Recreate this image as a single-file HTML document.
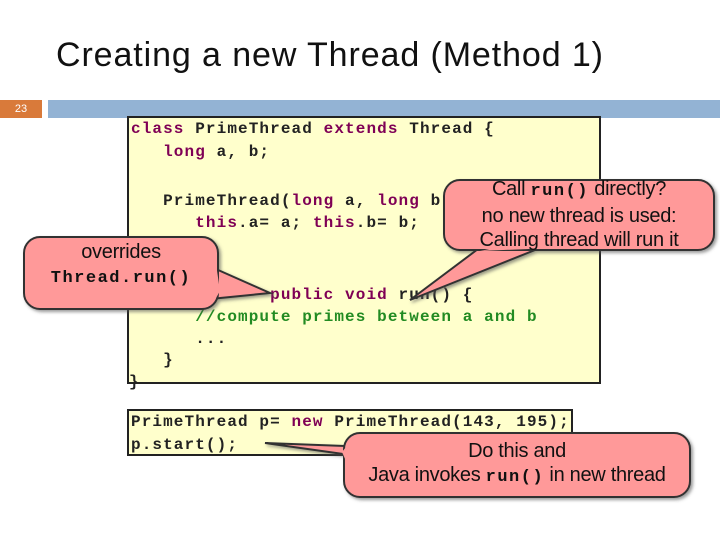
<!DOCTYPE html>
<html><head><meta charset="utf-8"><style>
body{margin:0;width:720px;height:540px;background:#fff;position:relative;overflow:hidden;font-family:"Liberation Sans",sans-serif}
.t{position:absolute;left:56px;top:36px;font-size:34px;letter-spacing:0.9px;color:#111}
.code{position:absolute;background:#ffffcc;border:2px solid #222;font-family:"Liberation Mono",monospace;font-weight:bold;font-size:16px;letter-spacing:1.1px;color:#222;box-sizing:border-box}
.ln{position:absolute;white-space:pre;line-height:18px}
.k{color:#7f0055}.c{color:#228b22}
svg{position:absolute;left:0;top:0}
.lb{position:absolute;text-align:center;font-size:20px;letter-spacing:-0.3px;color:#111;line-height:24px}
.m{font-family:"Liberation Mono",monospace;font-weight:bold;font-size:17px;letter-spacing:1.5px}
</style></head><body>
<div class="t">Creating a new Thread (Method 1)</div>
<div style="position:absolute;left:0;top:100px;width:42px;height:18px;background:#d97a3a;color:#fff;font-size:11px;text-align:center;line-height:18px">23</div>
<div style="position:absolute;left:48px;top:100px;width:672px;height:18px;background:#93b3d4"></div>
<div class="code" style="left:127px;top:116px;width:474px;height:268px">
<div class="ln" style="left:2px;top:2px"><span class="k">class</span> PrimeThread <span class="k">extends</span> Thread {</div>
<div class="ln" style="left:2px;top:25px">   <span class="k">long</span> a, b;</div>
<div class="ln" style="left:2px;top:74px">   PrimeThread(<span class="k">long</span> a, <span class="k">long</span> b) {</div>
<div class="ln" style="left:2px;top:96px">      <span class="k">this</span>.a= a; <span class="k">this</span>.b= b;</div>
<div class="ln" style="left:2px;top:168px">             <span class="k">public void</span> run() {</div>
<div class="ln" style="left:2px;top:190px">      <span class="c">//compute primes between a and b</span></div>
<div class="ln" style="left:2px;top:212px">      ...</div>
<div class="ln" style="left:2px;top:233px">   }</div>
<div class="ln" style="left:0px;top:255px">}</div>
</div>
<div class="code" style="left:127px;top:409px;width:446px;height:47px">
<div class="ln" style="left:2px;top:2px">PrimeThread p= <span class="k">new</span> PrimeThread(143, 195);</div>
<div class="ln" style="left:2px;top:25px">p.start();</div>
</div>
<svg width="720" height="540">
<defs><filter id="s"><feDropShadow dx="2" dy="2" stdDeviation="1.5" flood-color="#555" flood-opacity="0.6"/></filter></defs>
<g fill="#f99" stroke="#333" stroke-width="2" filter="url(#s)">
<polygon points="200,262 270,293 200,300"/>
<rect x="24" y="237" width="194" height="72" rx="16"/>
<polygon points="490,240 410,300 560,240"/>
<rect x="444" y="180" width="270" height="70" rx="16"/>
<polygon points="400,448 265,443 400,462"/>
<rect x="344" y="433" width="346" height="64" rx="16"/>
</g>
<g fill="#f99">
<polygon points="216,264 220,291 216,298"/>
<polygon points="494,248 480,251 552,248"/>
<polygon points="346,447 342,452 346,461"/>
</g>
</svg>
<div class="lb" style="left:24px;top:240px;width:194px">overrides<br><span class="m">Thread.run()</span></div>
<div class="lb" style="left:444px;top:177px;width:270px">Call <span class="m">run()</span> directly?<br>no new thread is used:<br>Calling thread will run it</div>
<div class="lb" style="left:344px;top:439px;width:346px">Do this and<br>Java invokes <span class="m">run()</span> in new thread</div>
</body></html>
